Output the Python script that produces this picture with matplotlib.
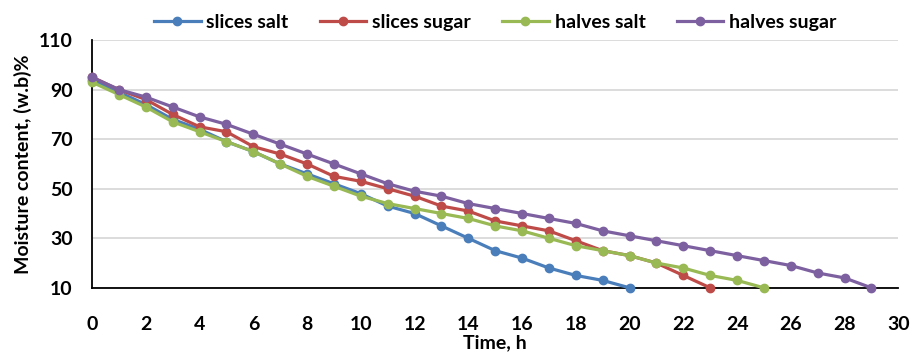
import numpy as np
import matplotlib.pyplot as plt

plt.rcParams['font.family'] = ['Lato', 'DejaVu Sans']
plt.rcParams['font.weight'] = 'bold'

# moisture content (w.b)% against drying time
hours_slices_salt = list(range(0, 21))
slices_salt = [94, 89, 84, 78, 74, 69, 65, 60, 56, 52, 48, 43, 40, 35, 30, 25, 22, 18, 15, 13, 10]

hours_slices_sugar = list(range(0, 24))
slices_sugar = [95, 90, 86, 80, 75, 73, 67, 64, 60, 55, 53, 50, 47, 43, 41, 37, 35, 33, 29, 25,
                23, 20, 15, 10]

hours_halves_salt = list(range(0, 26))
halves_salt = [93, 88, 83, 77, 73, 69, 65, 60, 55, 51, 47, 44, 42, 40, 38, 35, 33, 30, 27, 25,
               23, 20, 18, 15, 13, 10]

hours_halves_sugar = list(range(0, 30))
halves_sugar = [95, 90, 87, 83, 79, 76, 72, 68, 64, 60, 56, 52, 49, 47, 44, 42, 40, 38, 36, 33,
                31, 29, 27, 25, 23, 21, 19, 16, 14, 10]

series = [
    ('slices salt', hours_slices_salt, slices_salt, '#4A7EBB'),
    ('slices sugar', hours_slices_sugar, slices_sugar, '#BE4B48'),
    ('halves salt', hours_halves_salt, halves_salt, '#98B954'),
    ('halves sugar', hours_halves_sugar, halves_sugar, '#7D60A0'),
]

fs = 14

fig = plt.figure(figsize=(9.12, 3.58), dpi=100)
ax = fig.add_axes([0.101, 0.196, 0.884, 0.692])

for label, x, y, colour in series:
    ax.plot(x, y, color=colour, linewidth=2.3, marker='o', markersize=6,
            label=label, clip_on=False, zorder=3)

ax.set_xlim(0, 30)
ax.set_ylim(10, 110)
ax.set_xticks(np.arange(0, 31, 2))
ax.set_yticks(np.arange(10, 111, 20))
ax.yaxis.grid(True, color='#D9D9D9', linewidth=1.3)
ax.set_axisbelow(True)
for side in ['top', 'right']:
    ax.spines[side].set_visible(False)
ax.spines['left'].set_linewidth(1.3)
ax.spines['bottom'].set_linewidth(1.3)
ax.tick_params(axis='x', length=0, pad=20, labelsize=fs)
ax.tick_params(axis='y', length=0, pad=14, labelsize=fs)

ax.set_xlabel('Time, h', fontsize=fs, fontweight='bold', labelpad=1)
ax.set_ylabel('Moisture content, (w.b)%', fontsize=fs, fontweight='bold', labelpad=5)

ax.legend(loc='lower center', bbox_to_anchor=(0.5, 1.005), ncol=4, frameon=False,
          prop={'size': fs, 'weight': 'bold'}, handlelength=2.4, columnspacing=1.6,
          handletextpad=0.3, borderaxespad=0)

fig.savefig('out.png', dpi=100)
